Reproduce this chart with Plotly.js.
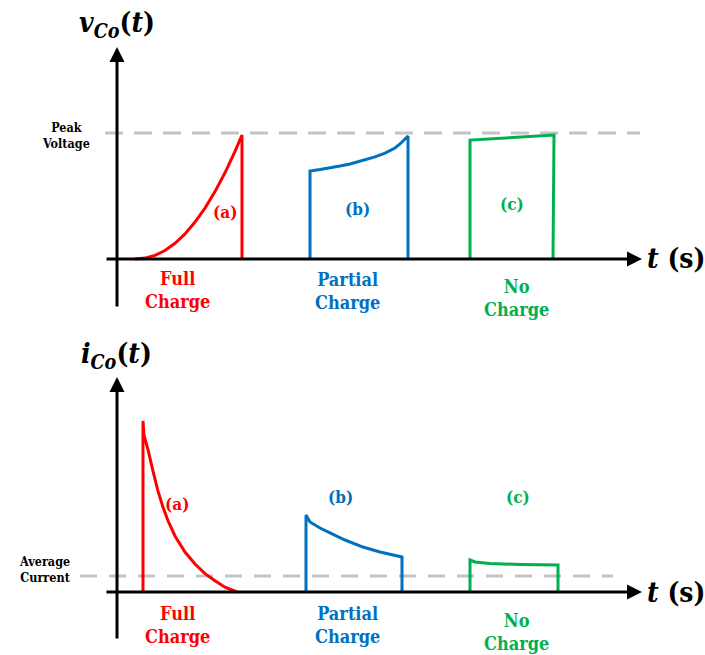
<!DOCTYPE html>
<html>
<head>
<meta charset="utf-8">
<script src="https://cdn.plot.ly/plotly-3.0.1.min.js"></script>
<style>html,body{margin:0;padding:0;background:#fff;}#chart{width:705px;height:655px;}</style>
</head>
<body>
<div id="chart"></div>
<script>
// ---- Data (time in arbitrary units, voltage normalised to peak, current normalised to average) ----
// Top panel: capacitor voltage v_Co(t)
const vFullT = [1.8, 2.8, 3.8, 4.8, 5.8, 6.8, 7.8, 8.8, 9.8, 10.8, 11.8, 12.5, 12.5];
const vFullV = [0, 0.007, 0.029, 0.067, 0.125, 0.199, 0.293, 0.404, 0.535, 0.684, 0.855, 0.984, 0];
const vPartT = [19.3, 19.3, 20.3, 21.3, 22.3, 23.3, 24.0, 24.8, 25.8, 26.8, 27.8, 28.3, 29.1, 29.1];
const vPartV = [0, 0.698, 0.710, 0.722, 0.738, 0.754, 0.770, 0.786, 0.810, 0.841, 0.881, 0.913, 0.976, 0];
const vNoT = [35.3, 35.3, 43.7, 43.6];
const vNoV = [0, 0.944, 0.984, 0];
const peakT = [-1.2, 52.3];
const peakV = [1, 1];

// Bottom panel: capacitor current i_Co(t)
const iFullT = [2.6, 2.6, 2.7, 3.1, 3.6, 4.1, 4.6, 5.1, 5.8, 6.8, 7.8, 8.8, 9.8, 10.8, 12.0];
const iFullI = [0, 10.69, 9.8, 8.9, 7.56, 6.3, 5.3, 4.45, 3.5, 2.5, 1.75, 1.15, 0.7, 0.3, 0.0];
const iPartT = [18.9, 18.9, 19.3, 20.3, 21.3, 22.8, 24.6, 26.3, 28.5, 28.5];
const iPartI = [0, 4.81, 4.375, 4.0, 3.69, 3.25, 2.81, 2.5, 2.19, 0];
const iNoT = [35.3, 35.3, 35.8, 37.3, 40.3, 44.1, 44.1];
const iNoI = [0, 2.0, 1.875, 1.78, 1.72, 1.69, 0];
const avgT = [-3.7, 49.6];
const avgI = [1, 1];

// Text
const caseLabels = ['(a)', '(b)', '(c)'];
const caseNames = ['Full<br>Charge', 'Partial<br>Charge', 'No<br>Charge'];

// ---- Styles ----
const RED = '#ff0000', BLUE = '#0070c0', GREEN = '#00b050', GREY = '#c4c4c4';
const FONT = 'DejaVu Serif Condensed';
const W = 705, H = 655;
const px = x => x / W, py = y => 1 - y / H;

function line(x, y, color, xa, ya, extra) {
  return Object.assign({x: x, y: y, mode: 'lines', type: 'scatter', xaxis: xa, yaxis: ya,
    line: {color: color, width: 3}, hoverinfo: 'skip', showlegend: false}, extra || {});
}

const traces = [
  line(peakT, peakV, GREY, 'x', 'y', {line: {color: GREY, width: 3, dash: '18px,11px'}}),
  line(vFullT, vFullV, RED, 'x', 'y'),
  line(vPartT, vPartV, BLUE, 'x', 'y'),
  line(vNoT, vNoV, GREEN, 'x', 'y'),
  line(avgT, avgI, GREY, 'x2', 'y2', {line: {color: GREY, width: 3, dash: '17px,12px'}}),
  line(iFullT, iFullI, RED, 'x2', 'y2'),
  line(iPartT, iPartI, BLUE, 'x2', 'y2'),
  line(iNoT, iNoI, GREEN, 'x2', 'y2'),
];

function arrow(xref, yref, x, y, ax, ay) {
  return {xref: xref, yref: yref, axref: xref, ayref: yref, x: x, y: y, ax: ax, ay: ay,
    text: '', showarrow: true, arrowhead: 2, arrowsize: 1, arrowwidth: 3, arrowcolor: '#000', standoff: 0, startstandoff: 0};
}
function txt(x, y, text, size, color) {
  return {xref: 'paper', yref: 'paper', x: px(x), y: py(y), text: text, showarrow: false,
    xanchor: 'center', yanchor: 'middle', font: {family: FONT, size: size, color: color}};
}

const annotations = [
  // axes with arrows
  arrow('x', 'y', 52.5, 0, -1.2, 0),
  arrow('x', 'y', 0, 1.683, 0, -0.389),
  arrow('x2', 'y2', 52.5, 0, -1.2, 0),
  arrow('x2', 'y2', 0, 13.44, 0, -3.0),
  // axis titles
  txt(117, 25, '<b><i>v</i><sub><i>Co</i></sub>(<i>t</i>)</b>', 28, '#000'),
  txt(676, 259, '<b><i>t</i> (s)</b>', 28, '#000'),
  txt(117, 355, '<b><i>i</i><sub><i>Co</i></sub>(<i>t</i>)</b>', 28, '#000'),
  txt(676, 592, '<b><i>t</i> (s)</b>', 28, '#000'),
  // reference levels
  txt(66, 136, '<b>Peak<br>Voltage</b>', 12.5, '#000'),
  txt(45, 569, '<b>Average<br>Current</b>', 12.5, '#000'),
  // case labels top
  txt(225, 212, '<b>' + caseLabels[0] + '</b>', 17, RED),
  txt(358, 209, '<b>' + caseLabels[1] + '</b>', 17, BLUE),
  txt(512, 204, '<b>' + caseLabels[2] + '</b>', 17, GREEN),
  txt(178, 290, '<b>' + caseNames[0] + '</b>', 18, RED),
  txt(347, 291, '<b>' + caseNames[1] + '</b>', 18, BLUE),
  txt(516, 298, '<b>' + caseNames[2] + '</b>', 18, GREEN),
  // case labels bottom
  txt(177, 504, '<b>' + caseLabels[0] + '</b>', 17, RED),
  txt(340, 497, '<b>' + caseLabels[1] + '</b>', 17, BLUE),
  txt(518, 497, '<b>' + caseLabels[2] + '</b>', 17, GREEN),
  txt(178, 625, '<b>' + caseNames[0] + '</b>', 18, RED),
  txt(347, 625, '<b>' + caseNames[1] + '</b>', 18, BLUE),
  txt(516, 632, '<b>' + caseNames[2] + '</b>', 18, GREEN),
];

const hidden = {showgrid: false, zeroline: false, showline: false, showticklabels: false, ticks: '', fixedrange: true};
const layout = {
  width: W, height: H,
  margin: {l: 0, r: 0, t: 0, b: 0},
  paper_bgcolor: '#fff', plot_bgcolor: '#fff',
  showlegend: false,
  font: {family: FONT},
  xaxis: Object.assign({domain: [0, 1], range: [-11.7, 58.8], anchor: 'y'}, hidden),
  yaxis: Object.assign({domain: [0.5, 1], range: [-0.5437, 2.0556], anchor: 'x'}, hidden),
  xaxis2: Object.assign({domain: [0, 1], range: [-11.7, 58.8], anchor: 'y2'}, hidden),
  yaxis2: Object.assign({domain: [0, 0.5], range: [-3.9375, 16.531], anchor: 'x2'}, hidden),
  annotations: annotations,
};

Plotly.newPlot('chart', traces, layout, {displayModeBar: false, staticPlot: true});
</script>
</body>
</html>
